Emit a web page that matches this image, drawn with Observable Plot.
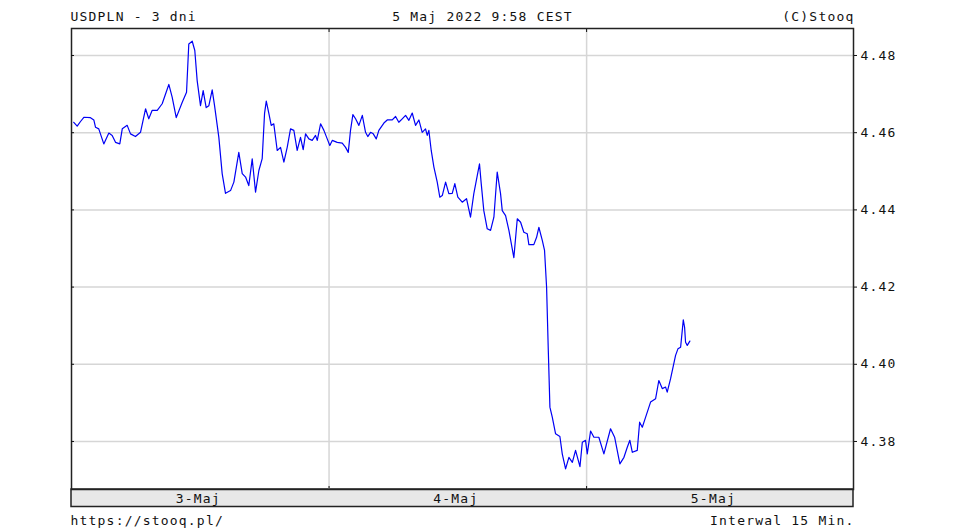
<!DOCTYPE html>
<html>
<head>
<meta charset="utf-8">
<script src="https://cdn.jsdelivr.net/npm/d3@7"></script>
<script src="https://cdn.jsdelivr.net/npm/@observablehq/plot@0.6"></script>
<style>
  html, body { margin: 0; padding: 0; background: #fff; }
</style>
</head>
<body>
<div id="chart"></div>
<script>
// hours since 3 May 2022 00:00 CEST
const hours = [
  0.21, 0.53, 0.84, 1.15, 1.77, 2.08, 2.24, 2.54, 3.01, 3.48, 3.79, 4.10, 4.50, 4.73, 5.19, 5.50, 5.96, 6.43, 6.90, 7.20,
  7.52, 7.99, 8.45, 9.07, 9.38, 9.76, 10.32, 10.72, 10.93, 11.25, 11.49, 11.71, 12.02, 12.27, 12.55, 12.80, 13.11, 13.33, 13.73, 14.04,
  14.35, 14.82, 15.13, 15.59, 15.91, 16.22, 16.52, 16.84, 17.15, 17.46, 17.77, 17.99, 18.15, 18.39, 18.61, 18.85, 19.17, 19.48, 19.79, 20.10,
  20.41, 20.72, 21.03, 21.34, 21.59, 21.81, 22.12, 22.43, 22.74, 22.90, 23.21, 23.52, 23.83, 24.07, 24.30, 24.76, 25.23, 25.54, 25.79, 26.00,
  26.22, 26.47, 26.78, 27.10, 27.40, 27.61, 27.87, 28.12, 28.40, 28.64, 29.11, 29.42, 29.89, 30.20, 30.50, 30.82, 31.13, 31.44, 31.75, 32.06,
  32.37, 32.68, 32.99, 33.15, 33.30, 33.52, 33.77, 34.08, 34.32, 34.55, 34.86, 35.16, 35.48, 35.72, 36.00, 36.41, 36.81, 37.18, 37.49, 37.81,
  38.02, 38.18, 38.42, 38.74, 39.05, 39.36, 39.67, 39.98, 40.14, 40.45, 40.76, 41.22, 41.54, 41.85, 42.15, 42.47, 42.62, 43.08, 43.34, 43.55,
  43.87, 44.08, 44.27, 44.43, 44.58, 44.80, 45.11, 45.51, 45.73, 46.04, 46.35, 46.67, 46.97, 47.38, 47.60, 47.90, 48.06, 48.37, 48.68, 49.14,
  49.61, 50.23, 50.61, 51.10, 51.48, 51.79, 52.03, 52.26, 52.72, 52.94, 53.19, 53.50, 53.96, 54.43, 54.73, 55.05, 55.36, 55.51, 55.82, 56.29,
  56.51, 56.76, 57.01, 57.13, 57.22, 57.38, 57.62
];
const rates = [
  4.4627, 4.4617, 4.4629, 4.4640, 4.4639, 4.4633, 4.4614, 4.4610, 4.4571, 4.4599, 4.4593, 4.4575, 4.4571, 4.4610, 4.4619, 4.4597, 4.4590, 4.4601, 4.4662, 4.4636,
  4.4658, 4.4658, 4.4675, 4.4725, 4.4692, 4.4639, 4.4679, 4.4705, 4.4830, 4.4837, 4.4813, 4.4735, 4.4670, 4.4709, 4.4665, 4.4670, 4.4711, 4.4670, 4.4588, 4.4494,
  4.4443, 4.4450, 4.4472, 4.4549, 4.4494, 4.4485, 4.4463, 4.4532, 4.4446, 4.4502, 4.4533, 4.4650, 4.4682, 4.4650, 4.4619, 4.4623, 4.4554, 4.4562, 4.4524, 4.4562,
  4.4610, 4.4606, 4.4554, 4.4588, 4.4556, 4.4597, 4.4584, 4.4580, 4.4593, 4.4580, 4.4623, 4.4606, 4.4584, 4.4567, 4.4580, 4.4575, 4.4573, 4.4562, 4.4549, 4.4606,
  4.4647, 4.4636, 4.4619, 4.4645, 4.4601, 4.4590, 4.4601, 4.4597, 4.4584, 4.4606, 4.4625, 4.4633, 4.4633, 4.4642, 4.4627, 4.4636, 4.4645, 4.4632, 4.4651, 4.4619,
  4.4633, 4.4601, 4.4610, 4.4593, 4.4606, 4.4554, 4.4511, 4.4472, 4.4433, 4.4437, 4.4472, 4.4442, 4.4443, 4.4468, 4.4433, 4.4420, 4.4429, 4.4381, 4.4442, 4.4489,
  4.4519, 4.4468, 4.4398, 4.4351, 4.4347, 4.4381, 4.4498, 4.4442, 4.4398, 4.4385, 4.4347, 4.4276, 4.4377, 4.4368, 4.4342, 4.4338, 4.4310, 4.4310, 4.4329, 4.4355,
  4.4321, 4.4295, 4.4200, 4.4036, 4.3889, 4.3863, 4.3820, 4.3813, 4.3768, 4.3729, 4.3759, 4.3746, 4.3777, 4.3735, 4.3798, 4.3803, 4.3768, 4.3827, 4.3811, 4.3811,
  4.3768, 4.3833, 4.3811, 4.3742, 4.3759, 4.3785, 4.3803, 4.3772, 4.3777, 4.3850, 4.3837, 4.3863, 4.3902, 4.3911, 4.3958, 4.3937, 4.3941, 4.3928, 4.3962, 4.4023,
  4.4040, 4.4044, 4.4115, 4.4096, 4.4057, 4.4049, 4.4060
];

const yTicks = [4.38, 4.40, 4.42, 4.44, 4.46, 4.48];
const dayBoundaries = [24, 48];
const dayCenters = [12, 36, 60];
const dayLabels = ["3-Maj", "4-Maj", "5-Maj"];
const titleLeft = "USDPLN - 3 dni";
const titleCenter = "5 Maj 2022 9:58 CEST";
const titleRight = "(C)Stooq";
const footLeft = "https://stooq.pl/";
const footRight = "Interwal 15 Min.";

const data = hours.map((h, i) => ({h, v: rates[i]}));
const ink = "#111";

const plot = Plot.plot({
  width: 954,
  height: 531,
  marginTop: 28,
  marginBottom: 42,
  marginLeft: 71,
  marginRight: 101,
  style: {fontFamily: "'DejaVu Sans Mono', monospace", fontSize: "13px", letterSpacing: "1.2px", color: ink, background: "#fff"},
  x: {domain: [0, 72.87], axis: null},
  y: {domain: [4.36756, 4.486995], axis: null},
  marks: [
    Plot.gridY(yTicks, {stroke: "#d6d6d6", strokeOpacity: 1, strokeWidth: 1.5}),
    Plot.gridX(dayBoundaries, {stroke: "#d6d6d6", strokeOpacity: 1, strokeWidth: 1.5}),
    Plot.line(data, {x: "h", y: "v", stroke: "#0000f5", strokeWidth: 1.2}),
    Plot.frame({stroke: "#222", strokeWidth: 1.5}),
    Plot.axisY(yTicks, {anchor: "right", tickSize: 3, tickPadding: 4, tickFormat: d3.format(".2f"), label: null, color: ink}),
    Plot.axisY(yTicks, {anchor: "left", tickSize: 3, dx: 3, tickFormat: () => "", label: null, color: ink}),
    Plot.axisX(dayBoundaries, {anchor: "top", tickSize: 3, dy: 3, tickFormat: () => "", label: null, color: ink}),
    Plot.axisX(dayBoundaries, {anchor: "bottom", tickSize: 3, dy: -3, tickFormat: () => "", label: null, color: ink}),
    Plot.axisX(dayCenters, {anchor: "bottom", tickSize: 0, tickPadding: 4, tickFormat: (d, i) => dayLabels[i], label: null, color: ink, dx: -2}),
    Plot.text([titleLeft], {frameAnchor: "top-left", textAnchor: "start", lineAnchor: "middle", dy: -12, dx: -1, fill: ink}),
    Plot.text([titleCenter], {frameAnchor: "top", textAnchor: "middle", lineAnchor: "middle", dy: -12, dx: 20, fill: ink}),
    Plot.text([titleRight], {frameAnchor: "top-right", textAnchor: "end", lineAnchor: "middle", dy: -12, dx: 1, fill: ink}),
    Plot.text([footLeft], {frameAnchor: "bottom-left", textAnchor: "start", lineAnchor: "middle", dy: 31, dx: -1, fill: ink}),
    Plot.text([footRight], {frameAnchor: "bottom-right", textAnchor: "end", lineAnchor: "middle", dy: 31, dx: 1, fill: ink})
  ]
});

// gray date band below the frame (decoration)
const xr = plot.scale("x").range;
const yr = plot.scale("y").range;
d3.select(plot).insert("rect", "g")
  .attr("x", Math.min(...xr))
  .attr("y", Math.max(...yr))
  .attr("width", Math.abs(xr[1] - xr[0]))
  .attr("height", 17.5)
  .attr("fill", "#e8e8e8")
  .attr("stroke", "#222")
  .attr("stroke-width", 1.5);

document.getElementById("chart").appendChild(plot);
</script>
</body>
</html>
